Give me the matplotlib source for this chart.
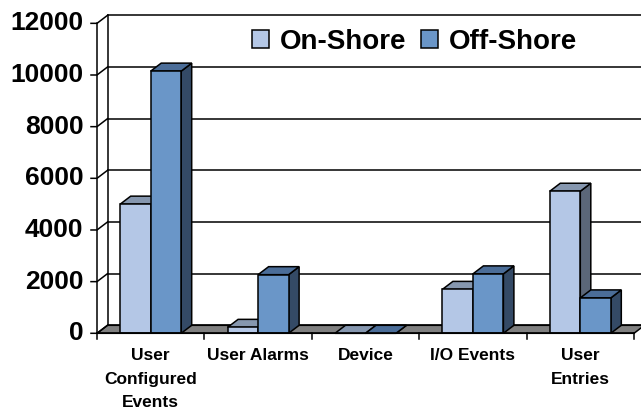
import matplotlib
matplotlib.use("Agg")
import matplotlib.pyplot as plt
from matplotlib.patches import Polygon, Rectangle, Patch

plt.rcParams['font.family'] = ['Liberation Sans', 'DejaVu Sans']
plt.rcParams['font.weight'] = 'bold'

categories = ["User\nConfigured\nEvents", "User Alarms", "Device", "I/O Events", "User\nEntries"]
series_names = ["On-Shore", "Off-Shore"]
on_shore = [5000, 230, 0, 1700, 5500]
off_shore = [10150, 2270, 0, 2300, 1370]
y_ticks = [0, 2000, 4000, 6000, 8000, 10000, 12000]

# face colours: front, top, side
on_cols = ("#B4C7E6", "#8697AF", "#5B6779")
off_cols = ("#6A96C8", "#4B6D98", "#344A66")
floor_col = "#808080"

# pixel geometry of the excel-like 3d plot
W, H = 641, 413
x0_px, cat_px = 97, 107.4
y0_px, per_unit = 333.3, 0.02583
DX = 10.5 / cat_px          # depth offset in category units
DY = 8.0 / per_unit         # depth offset in value units
bw = 0.284                  # bar width

fig = plt.figure(figsize=(W / 100, H / 100), dpi=100)
ax = fig.add_axes([0, 0, 1, 1])
ax.set_xlim(-x0_px / cat_px, (W - x0_px) / cat_px)
ax.set_ylim((y0_px - H) / per_unit, y0_px / per_unit)
ax.axis('off')

n = len(categories)
xmax = ax.get_xlim()[1] + 0.1
lw = 1.1

# back wall grid lines and left edge
for v in y_ticks:
    ax.plot([DX, xmax], [v + DY, v + DY], color='black', lw=lw, zorder=1)
ax.plot([DX, DX], [DY, y_ticks[-1] + DY], color='black', lw=lw, zorder=1)

# floor
ax.add_patch(Polygon([(0, 0), (n, 0), (n + DX, DY), (DX, DY)], closed=True,
                     facecolor=floor_col, edgecolor='black', lw=lw, zorder=2))


def bar3d(x, v, cols):
    front, top, side = cols
    ax.add_patch(Polygon([(x + bw, 0), (x + bw + DX, DY), (x + bw + DX, v + DY), (x + bw, v)],
                         closed=True, facecolor=side, edgecolor='black', lw=lw, zorder=3))
    ax.add_patch(Polygon([(x, v), (x + bw, v), (x + bw + DX, v + DY), (x + DX, v + DY)],
                         closed=True, facecolor=top, edgecolor='black', lw=lw, zorder=3))
    if v > 0:
        ax.add_patch(Rectangle((x, 0), bw, v, facecolor=front, edgecolor='black', lw=lw, zorder=3))


for i in range(n):
    bar3d(i + 0.5 - bw, on_shore[i], on_cols)
    bar3d(i + 0.5, off_shore[i], off_cols)

# front value axis, diagonals and tick labels
tick_len = 6.0 / cat_px
ax.plot([0, 0], [0, y_ticks[-1]], color='black', lw=lw, zorder=4)
for v in y_ticks:
    ax.plot([-tick_len, 0, DX], [v, v, v + DY], color='black', lw=lw, zorder=4)
    ax.text(-13.5 / cat_px, v, str(v), ha='right', va='center', fontsize=19,
            fontweight='bold', zorder=5)

# front category axis
ax.plot([0, n], [0, 0], color='black', lw=lw, zorder=4)
for i in range(n + 1):
    ax.plot([i, i], [0, -6.0 / per_unit], color='black', lw=lw, zorder=4)
for i, lab in enumerate(categories):
    ax.text(i + 0.5, -15.0 / per_unit, lab, ha='center', va='top', fontsize=12.5,
            fontweight='bold', linespacing=1.7, zorder=5)

handles = [Patch(facecolor=on_cols[0], edgecolor='black', lw=lw),
           Patch(facecolor=off_cols[0], edgecolor='black', lw=lw)]
ax.legend(handles, series_names, loc='center', bbox_to_anchor=(414.5 / W, 1 - 42 / H),
          bbox_transform=fig.transFigure, ncol=2, frameon=False,
          handlelength=0.62, handleheight=0.62, handletextpad=0.4, columnspacing=0.5,
          borderpad=0, prop={'weight': 'bold', 'size': 20})

fig.savefig("out.png", dpi=100, facecolor='white')
